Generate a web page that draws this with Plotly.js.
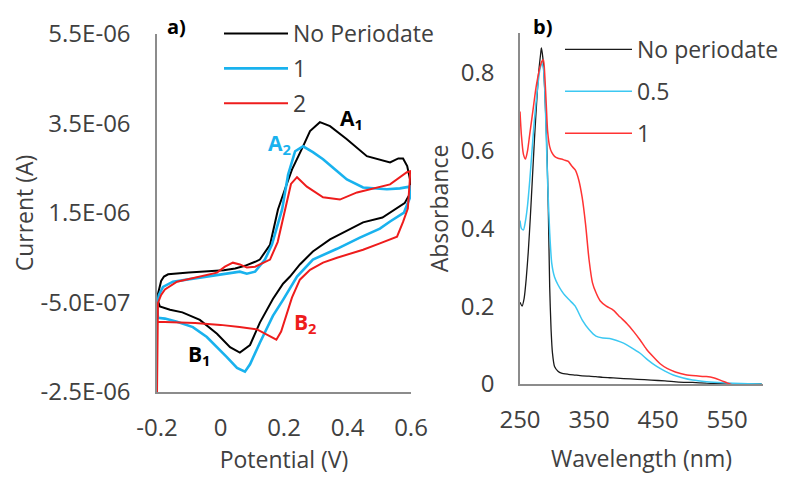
<!DOCTYPE html>
<html><head><meta charset="utf-8">
<script src="https://cdn.plot.ly/plotly-3.0.1.min.js"></script>
<style>html,body{margin:0;padding:0;background:#fff}#chart{width:800px;height:492px}</style>
</head><body><div id="chart"></div>
<script>
// ---------- Panel a: cyclic voltammograms (potential V, current in microamps) ----------
var potNoPer = [-0.200,-0.194,-0.187,-0.178,-0.165,-0.100,-0.040,0.010,0.046,0.077,0.109,0.124,0.156,0.181,0.203,0.225,0.260,0.282,0.313,0.345,0.398,0.461,0.534,0.560,0.575,0.588,0.597,
                0.598,0.580,0.565,0.510,0.449,0.392,0.345,0.291,0.250,0.219,0.197,0.165,0.124,0.093,0.061,0.030,-0.011,-0.065,-0.120,-0.159,-0.191,-0.200];
var curNoPer_uA = [-0.40,-0.20,-0.02,0.08,0.13,0.17,0.20,0.22,0.26,0.32,0.41,0.46,0.79,1.58,2.03,2.47,2.99,3.33,3.53,3.44,3.15,2.77,2.63,2.72,2.72,2.55,2.25,
                1.95,1.72,1.65,1.40,1.29,1.09,0.91,0.64,0.35,0.08,-0.08,-0.42,-0.95,-1.45,-1.62,-1.50,-1.20,-0.89,-0.72,-0.66,-0.59,-0.40];

var pot1 = [-0.200,-0.194,-0.181,-0.150,-0.065,0.014,0.061,0.083,0.109,0.140,0.162,0.194,0.213,0.235,0.260,0.291,0.323,0.361,0.398,0.449,0.524,0.565,0.596,
            0.597,0.578,0.534,0.502,0.439,0.367,0.291,0.241,0.197,0.165,0.124,0.093,0.077,0.052,0.020,-0.043,-0.087,-0.137,-0.175,-0.197,-0.200];
var cur1_uA = [-0.55,-0.33,-0.15,-0.035,0.055,0.144,0.189,0.144,0.189,0.458,0.794,1.58,2.36,2.88,2.99,2.86,2.70,2.47,2.25,2.07,2.03,2.05,2.09,
            1.85,1.51,1.31,1.15,0.95,0.70,0.46,0.08,-0.44,-0.80,-1.40,-1.88,-2.045,-1.96,-1.72,-1.27,-1.05,-0.93,-0.86,-0.84,-0.55];

var pot2 = [-0.200,-0.199,-0.197,-0.187,-0.175,-0.137,-0.065,-0.011,0.014,0.039,0.061,0.083,0.109,0.131,0.156,0.180,0.197,0.209,0.222,0.241,0.272,0.323,0.376,0.430,0.471,0.534,0.587,0.597,
            0.596,0.590,0.575,0.556,0.502,0.449,0.367,0.323,0.282,0.250,0.225,0.206,0.191,0.176,0.160,0.140,0.115,0.060,0.000,-0.080,-0.150,-0.199];
var cur2_uA = [-2.50,-0.93,-0.51,-0.33,-0.21,-0.035,0.077,0.167,0.30,0.39,0.35,0.28,0.30,0.37,0.46,0.85,1.40,1.75,2.15,2.30,2.09,1.85,1.80,1.96,2.03,2.14,2.41,2.43,
            2.20,1.60,1.30,0.97,0.82,0.68,0.50,0.39,0.23,0.01,-0.39,-0.84,-1.15,-1.33,-1.27,-1.18,-1.10,-1.05,-1.00,-0.96,-0.94,-0.93];

var cvNames = ["No Periodate", "1", "2"];
var potTicks = [-0.2, 0, 0.2, 0.4, 0.6];
var potTickText = ["-0.2", "0", "0.2", "0.4", "0.6"];
var curTicks = [-2.5e-6, -0.5e-6, 1.5e-6, 3.5e-6, 5.5e-6];
var curTickText = ["-2.5E-06", "-5.0E-07", "1.5E-06", "3.5E-06", "5.5E-06"];

// ---------- Panel b: UV-vis spectra ----------
var wlNoPer = [250,253,256,259,262,265,268,271,274,277,280,281,283,286,289,291,293,295,297,300,305,310,320,330,340,350,360,370,380,390,400,420,440,460,480,500,520,540,560,580,600];
var absNoPer = [0.21,0.20,0.22,0.27,0.34,0.43,0.53,0.63,0.72,0.80,0.85,0.864,0.84,0.75,0.60,0.45,0.25,0.14,0.08,0.045,0.033,0.028,0.025,0.023,0.021,0.020,0.019,0.017,0.016,0.015,0.014,0.012,0.010,0.008,0.005,0.004,0.002,0.001,0.000,0.000,0.000];

var wl05 = [250,252,255,258,261,264,267,270,273,276,279,282,284,286,288,290,293,296,300,305,310,315,322,330,340,350,360,370,380,390,400,410,424,435,448,460,472,485,500,520,545,570,600];
var abs05 = [0.42,0.40,0.396,0.42,0.46,0.52,0.59,0.66,0.72,0.77,0.81,0.823,0.81,0.75,0.64,0.52,0.39,0.31,0.275,0.255,0.24,0.228,0.215,0.20,0.165,0.14,0.123,0.118,0.117,0.112,0.105,0.095,0.079,0.062,0.045,0.033,0.023,0.016,0.010,0.006,0.003,0.001,0.000];

var wl1 = [250,252,255,258,261,264,267,270,273,276,279,282,284,286,288,290,293,296,300,305,310,315,320,325,330,335,340,345,350,355,360,366,375,385,395,405,415,424,433,443,453,463,475,490,505,520,530,540,550,560,570,583,600];
var abs1 = [0.70,0.64,0.59,0.578,0.60,0.64,0.68,0.72,0.76,0.79,0.815,0.83,0.833,0.79,0.72,0.65,0.61,0.595,0.585,0.58,0.578,0.575,0.572,0.56,0.55,0.525,0.48,0.41,0.32,0.26,0.235,0.214,0.20,0.19,0.172,0.155,0.134,0.113,0.09,0.07,0.052,0.04,0.031,0.024,0.021,0.019,0.016,0.010,0.003,-0.004,-0.005,-0.005,-0.003];

var uvNames = ["No periodate", "0.5", "1"];
var wlTicks = [250, 350, 450, 550];
var absTicks = [0, 0.2, 0.4, 0.6, 0.8];

// ---------- build ----------
function toAmp(arr) { return arr.map(function (v) { return v * 1e-6; }); }
var FONT = "Open Sans, Lato, sans-serif";
var TXT = "#404040";
var AX = "#8c8c8c";
var BLUE_A = "#19B2EE", RED_A = "#EE1C1C";

var traces = [
  {x: potNoPer, y: toAmp(curNoPer_uA), name: cvNames[0], legendgroup: "a0", mode: "lines", line: {color: "#000000", width: 2}, xaxis: "x", yaxis: "y", legend: "legend"},
  {x: pot1, y: toAmp(cur1_uA), name: cvNames[1], legendgroup: "a1", mode: "lines", line: {color: BLUE_A, width: 2.6}, xaxis: "x", yaxis: "y", legend: "legend"},
  {x: pot2, y: toAmp(cur2_uA), name: cvNames[2], legendgroup: "a2", mode: "lines", line: {color: RED_A, width: 2}, xaxis: "x", yaxis: "y", legend: "legend"},
  {x: wlNoPer, y: absNoPer, name: uvNames[0], legendgroup: "b0", mode: "lines", line: {color: "#1a1a1a", width: 1.3, shape: "spline", smoothing: 0.6}, xaxis: "x2", yaxis: "y2", legend: "legend2"},
  {x: wl05, y: abs05, name: uvNames[1], legendgroup: "b1", mode: "lines", line: {color: "#3CC8F2", width: 1.5, shape: "spline", smoothing: 0.6}, xaxis: "x2", yaxis: "y2", legend: "legend2"},
  {x: wl1, y: abs1, name: uvNames[2], legendgroup: "b2", mode: "lines", line: {color: "#FF3333", width: 1.5, shape: "spline", smoothing: 0.6}, xaxis: "x2", yaxis: "y2", legend: "legend2"}
];

function axisBase() {
  return {showgrid: false, zeroline: false, showline: true, linecolor: AX, linewidth: 1.6,
          ticks: "", tickfont: {family: FONT, size: 24, color: TXT}, fixedrange: true};
}
var titleFont = {family: FONT, size: 23, color: TXT};

var xa = axisBase(); Object.assign(xa, {domain: [157/800, 411/800], range: [-0.2, 0.6], tickmode: "array", tickvals: potTicks, ticktext: potTickText,
  anchor: "y", ticklabelstandoff: 14, title: {text: "Potential (V)", font: titleFont, standoff: 4}});
var ya = axisBase(); Object.assign(ya, {domain: [1 - 392/492, 1 - 34/492], range: [-2.5e-6, 5.5e-6], tickmode: "array", tickvals: curTicks, ticktext: curTickText,
  anchor: "x", ticklabelstandoff: 20, title: {text: "Current (A)", font: titleFont, standoff: 0}});
var xb = axisBase(); Object.assign(xb, {domain: [520/800, 763/800], range: [250, 602], tickmode: "array", tickvals: wlTicks, ticktext: wlTicks.map(String),
  anchor: "y2", ticklabelstandoff: 14, title: {text: "Wavelength (nm)", font: titleFont, standoff: 16}});
var yb = axisBase(); Object.assign(yb, {domain: [1 - 384/492, 1 - 33/492], range: [0, 0.902], tickmode: "array", tickvals: absTicks, ticktext: ["0", "0.2", "0.4", "0.6", "0.8"],
  anchor: "x2", ticklabelstandoff: 19, title: {text: "Absorbance", font: titleFont, standoff: 6}});

var annFont = function (c, s) { return {family: FONT, size: s || 21, color: c}; };
function ann(text, xref, yref, x, y, color, size) {
  return {text: text, xref: xref, yref: yref, x: x, y: y, xanchor: "center", yanchor: "middle", showarrow: false, font: annFont(color, size)};
}
var layout = {
  width: 800, height: 492,
  margin: {l: 0, r: 0, t: 0, b: 0},
  paper_bgcolor: "#ffffff", plot_bgcolor: "#ffffff",
  font: {family: FONT, color: TXT},
  xaxis: xa, yaxis: ya, xaxis2: xb, yaxis2: yb,
  legend: {x: 219/800, y: 1 - 12/492, xanchor: "left", yanchor: "top", bgcolor: "rgba(0,0,0,0)", itemwidth: 64,
           traceorder: "grouped", tracegroupgap: 2, font: {family: FONT, size: 23, color: TXT}},
  legend2: {x: 560/800, y: 1 - 28/492, xanchor: "left", yanchor: "top", bgcolor: "rgba(0,0,0,0)", itemwidth: 67,
           traceorder: "grouped", tracegroupgap: 9, font: {family: FONT, size: 23, color: TXT}},
  showlegend: true,
  annotations: [
    ann("<b>a)</b>", "paper", "paper", 176/800, 1 - 26/492, "#000000", 20),
    ann("<b>b)</b>", "paper", "paper", 542/800, 1 - 26/492, "#000000", 20),
    ann("<b>A<sub>1</sub></b>", "x", "y", 0.414, 3.6e-6, "#000000"),
    ann("<b>A<sub>2</sub></b>", "x", "y", 0.187, 3.04e-6, BLUE_A),
    ann("<b>B<sub>1</sub></b>", "x", "y", -0.065, -1.67e-6, "#000000"),
    ann("<b>B<sub>2</sub></b>", "x", "y", 0.269, -0.95e-6, RED_A)
  ]
};

Plotly.newPlot("chart", traces, layout, {displayModeBar: false, staticPlot: true});
</script></body></html>
